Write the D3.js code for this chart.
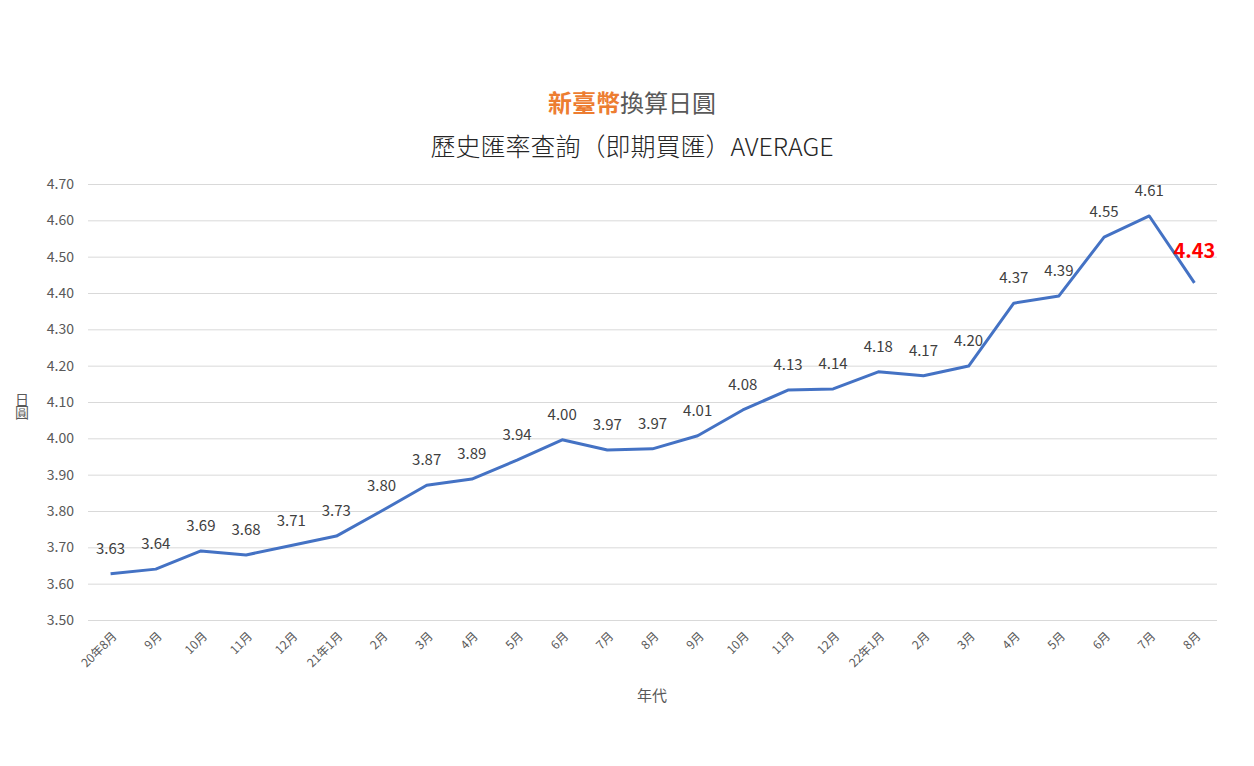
<!DOCTYPE html>
<html>
<head>
<meta charset="utf-8">
<script src="https://cdn.jsdelivr.net/npm/d3@7"></script>
<style>
  body { margin: 0; background: #fff; }
  svg text { font-family: "Noto Sans CJK TC", "Noto Sans", sans-serif; }
</style>
</head>
<body>
<div id="chart"></div>
<script>
// 月份
var months = ['20年8月', '9月', '10月', '11月', '12月', '21年1月', '2月', '3月', '4月', '5月', '6月', '7月', '8月',
              '9月', '10月', '11月', '12月', '22年1月', '2月', '3月', '4月', '5月', '6月', '7月', '8月'];
// 匯率 (AVERAGE)
var rates = [3.627, 3.640, 3.690, 3.679, 3.705, 3.731, 3.800, 3.871, 3.888, 3.940, 3.996, 3.968, 3.971,
             4.007, 4.078, 4.133, 4.136, 4.183, 4.172, 4.199, 4.372, 4.392, 4.554, 4.612, 4.428];
var yTicks = [3.5, 3.6, 3.7, 3.8, 3.9, 4.0, 4.1, 4.2, 4.3, 4.4, 4.5, 4.6, 4.7];

var width = 1254, height = 766;
var margin = {top: 184, right: 37, bottom: 146, left: 88};
var innerW = width - margin.left - margin.right,
    innerH = height - margin.top - margin.bottom;

var svg = d3.select('#chart').append('svg').attr('width', width).attr('height', height);
var g = svg.append('g').attr('transform', `translate(${margin.left},${margin.top})`);

var x = d3.scaleBand().domain(d3.range(months.length)).range([0, innerW]);
var y = d3.scaleLinear().domain([3.5, 4.7]).range([innerH, 0]);

// 標題
var title = svg.append('text').attr('x', 632).attr('y', 112).attr('text-anchor', 'middle').attr('font-size', 24);
title.append('tspan').attr('fill', '#ED7D31').attr('font-weight', 'bold').text('新臺幣');
title.append('tspan').attr('fill', '#595959').text('換算日圓');
svg.append('text').attr('x', 632).attr('y', 156).attr('text-anchor', 'middle')
    .attr('font-size', 25).attr('font-weight', 300).attr('fill', '#262626').text('歷史匯率查詢（即期買匯）AVERAGE');

// 格線 + Y 軸
var yAxis = g.append('g').call(d3.axisLeft(y).tickValues(yTicks).tickSize(-innerW).tickPadding(14).tickFormat(d3.format('.2f')));
yAxis.select('.domain').remove();
yAxis.selectAll('line').attr('stroke', '#d9d9d9');
yAxis.selectAll('text').attr('fill', '#595959').attr('font-size', 14).attr('font-family', '"Noto Sans", sans-serif');

// X 軸
var xAxis = g.append('g').attr('transform', `translate(0,${innerH})`)
    .call(d3.axisBottom(x).tickSize(0).tickFormat(i => months[i]));
xAxis.select('.domain').remove();
xAxis.selectAll('text')
    .attr('fill', '#595959').attr('font-size', 12)
    .attr('text-anchor', 'end')
    .attr('dy', 0).attr('y', 0)
    .attr('transform', 'translate(7,17) rotate(-45)');

// 線
var line = d3.line().x((d, i) => x(i) + x.bandwidth() / 2).y(d => y(d));
g.append('path').datum(rates).attr('d', line)
    .attr('fill', 'none').attr('stroke', '#4472C4').attr('stroke-width', 3).attr('stroke-linejoin', 'round');

// 資料標籤
var last = rates.length - 1;
g.selectAll('.lbl').data(rates).enter().append('text')
    .attr('class', 'lbl')
    .attr('x', (d, i) => x(i) + x.bandwidth() / 2)
    .attr('y', (d, i) => y(d) - (i === last ? 25 : 20))
    .attr('text-anchor', 'middle')
    .attr('font-family', '"Noto Sans", sans-serif')
    .attr('font-size', (d, i) => i === last ? 20 : 15)
    .attr('font-weight', (d, i) => i === last ? 'bold' : 'normal')
    .attr('fill', (d, i) => i === last ? '#FF0000' : '#404040')
    .text(d => d.toFixed(2));

// 軸標題
svg.append('text').attr('x', 652).attr('y', 701).attr('text-anchor', 'middle')
    .attr('font-size', 15).attr('fill', '#595959').text('年代');
svg.append('text').attr('x', 22).attr('y', 393)
    .attr('font-size', 14).attr('fill', '#595959')
    .style('writing-mode', 'vertical-rl').style('letter-spacing', '-1px')
    .text('日圓');
</script>
</body>
</html>
